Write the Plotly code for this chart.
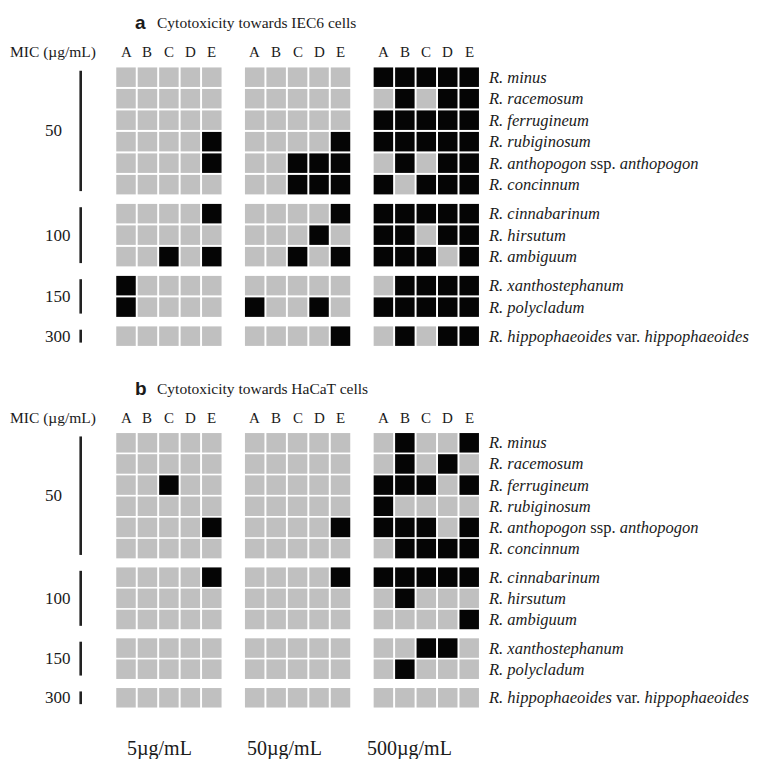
import plotly.graph_objects as go

# ---------------- data ----------------
species = [
    "<i>R. minus</i>",
    "<i>R. racemosum</i>",
    "<i>R. ferrugineum</i>",
    "<i>R. rubiginosum</i>",
    "<i>R. anthopogon</i> ssp. <i>anthopogon</i>",
    "<i>R. concinnum</i>",
    "<i>R. cinnabarinum</i>",
    "<i>R. hirsutum</i>",
    "<i>R. ambiguum</i>",
    "<i>R. xanthostephanum</i>",
    "<i>R. polycladum</i>",
    "<i>R. hippophaeoides</i> var. <i>hippophaeoides</i>",
]
mic_values = ["50", "100", "150", "300"]
mic_group_sizes = [6, 3, 2, 1]
extract_cols = ["A", "B", "C", "D", "E"]
conc_labels = ["5µg/mL", "50µg/mL", "500µg/mL"]
panel_titles = [("a", "Cytotoxicity towards IEC6 cells"),
                ("b", "Cytotoxicity towards HaCaT cells")]

# 1 = cytotoxic (black), 0 = not (grey); rows follow `species`, cols A-E
iec6_5 = [
    [0, 0, 0, 0, 0], [0, 0, 0, 0, 0], [0, 0, 0, 0, 0], [0, 0, 0, 0, 1],
    [0, 0, 0, 0, 1], [0, 0, 0, 0, 0], [0, 0, 0, 0, 1], [0, 0, 0, 0, 0],
    [0, 0, 1, 0, 1], [1, 0, 0, 0, 0], [1, 0, 0, 0, 0], [0, 0, 0, 0, 0],
]
iec6_50 = [
    [0, 0, 0, 0, 0], [0, 0, 0, 0, 0], [0, 0, 0, 0, 0], [0, 0, 0, 0, 1],
    [0, 0, 1, 1, 1], [0, 0, 1, 1, 1], [0, 0, 0, 0, 1], [0, 0, 0, 1, 0],
    [0, 0, 1, 0, 1], [0, 0, 0, 0, 0], [1, 0, 0, 1, 0], [0, 0, 0, 0, 1],
]
iec6_500 = [
    [1, 1, 1, 1, 1], [0, 1, 0, 1, 1], [1, 1, 1, 1, 1], [1, 1, 1, 1, 1],
    [0, 1, 0, 1, 1], [1, 0, 1, 1, 1], [1, 1, 1, 1, 1], [1, 1, 0, 1, 1],
    [1, 1, 1, 0, 1], [0, 1, 1, 1, 1], [1, 1, 1, 1, 1], [0, 1, 0, 1, 1],
]
hacat_5 = [
    [0, 0, 0, 0, 0], [0, 0, 0, 0, 0], [0, 0, 1, 0, 0], [0, 0, 0, 0, 0],
    [0, 0, 0, 0, 1], [0, 0, 0, 0, 0], [0, 0, 0, 0, 1], [0, 0, 0, 0, 0],
    [0, 0, 0, 0, 0], [0, 0, 0, 0, 0], [0, 0, 0, 0, 0], [0, 0, 0, 0, 0],
]
hacat_50 = [
    [0, 0, 0, 0, 0], [0, 0, 0, 0, 0], [0, 0, 0, 0, 0], [0, 0, 0, 0, 0],
    [0, 0, 0, 0, 1], [0, 0, 0, 0, 0], [0, 0, 0, 0, 1], [0, 0, 0, 0, 0],
    [0, 0, 0, 0, 0], [0, 0, 0, 0, 0], [0, 0, 0, 0, 0], [0, 0, 0, 0, 0],
]
hacat_500 = [
    [0, 1, 0, 0, 1], [0, 1, 0, 1, 0], [1, 1, 1, 0, 1], [1, 0, 0, 0, 0],
    [1, 1, 1, 0, 1], [0, 1, 1, 1, 1], [1, 1, 1, 1, 1], [0, 1, 0, 0, 0],
    [0, 0, 0, 0, 1], [0, 0, 1, 1, 0], [0, 1, 0, 0, 0], [0, 0, 0, 0, 0],
]
panels = [[iec6_5, iec6_50, iec6_500], [hacat_5, hacat_50, hacat_500]]

# ---------------- layout constants ----------------
OFF = 8                               # page body margin of the browser
W, H = 763 - OFF, 759 - OFF
X0_PX, COL_PX = 126.0, 21.45          # screen centre of first cell, column pitch
PANEL_Y0_PX = [77.2, 442.8]           # screen centre of first row per panel
PANEL_ROW_PX = [21.49, 21.16]         # row pitch per panel
GROUP_STEP = 6                        # columns per concentration block (5 + gap)
ROW_GAP = 0.35                        # extra gap between MIC groups (row units)
CELL = 19.5
GREY, BLACK, INK = "#c0c0c0", "#050505", "#1a1a1a"
SERIF = "Liberation Serif, Times New Roman, serif"
SANS = "Liberation Sans, Arial, sans-serif"


def px_to_u(px):
    return (px - X0_PX) / COL_PX


# row positions in row units, with gaps between MIC groups
row_pos = []
for gi, n in enumerate(mic_group_sizes):
    start = len(row_pos)
    for k in range(n):
        row_pos.append(start + k + gi * ROW_GAP)

fig = go.Figure()
annotations = []
yaxes = ["y", "y2"]

for p, blocks in enumerate(panels):
    ya = yaxes[p]
    yref = ya
    y0, rp = PANEL_Y0_PX[p], PANEL_ROW_PX[p]
    # cells
    for g, mat in enumerate(blocks):
        xs, ys, cs = [], [], []
        for r, row in enumerate(mat):
            for c, val in enumerate(row):
                xs.append(g * GROUP_STEP + c)
                ys.append(row_pos[r])
                cs.append(BLACK if val else GREY)
        fig.add_trace(go.Scatter(
            x=xs, y=ys, mode="markers", yaxis=ya, hoverinfo="skip",
            marker=dict(symbol="square", size=CELL, color=cs, line=dict(width=0)),
        ))
    # column headers
    hdr_v = -1.17
    for g in range(len(blocks)):
        for c, lab in enumerate(extract_cols):
            annotations.append(dict(
                x=g * GROUP_STEP + c, y=hdr_v, xref="x", yref=yref, text=lab,
                showarrow=False, font=dict(family=SERIF, size=15, color=INK),
                xanchor="center", yanchor="middle"))
    # MIC label
    annotations.append(dict(
        x=px_to_u(8), y=hdr_v, xref="x", yref=yref, text="MIC (µg/mL)",
        showarrow=False, font=dict(family=SERIF, size=15.5, color=INK),
        xanchor="left", yanchor="middle"))
    # panel title
    letter, title = panel_titles[p]
    title_v = -54.5 / rp
    annotations.append(dict(
        x=px_to_u(133), y=title_v, xref="x", yref=yref, text="<b>%s</b>" % letter,
        showarrow=False, font=dict(family=SANS, size=19, color=INK),
        xanchor="left", yanchor="middle"))
    annotations.append(dict(
        x=px_to_u(155), y=title_v, xref="x", yref=yref, text=title,
        showarrow=False, font=dict(family=SERIF, size=15.5, color=INK),
        xanchor="left", yanchor="middle"))
    # species labels
    for r, name in enumerate(species):
        annotations.append(dict(
            x=px_to_u(486), y=row_pos[r], xref="x", yref=yref, text=name,
            showarrow=False, font=dict(family=SERIF, size=16.5, color=INK),
            xanchor="left", yanchor="middle"))
    # MIC group bars + values
    bx, by = [], []
    start = 0
    for gi, n in enumerate(mic_group_sizes):
        top = row_pos[start] - 0.3
        bot = row_pos[start + n - 1] + 0.3
        bx += [px_to_u(80.7), px_to_u(80.7), None]
        by += [top, bot, None]
        annotations.append(dict(
            x=px_to_u(43), y=(row_pos[start] + row_pos[start + n - 1]) / 2,
            xref="x", yref=yref, text=mic_values[gi], showarrow=False,
            font=dict(family=SERIF, size=17, color=INK),
            xanchor="left", yanchor="middle"))
        start += n
    fig.add_trace(go.Scatter(
        x=bx, y=by, mode="lines", yaxis=ya, hoverinfo="skip",
        line=dict(color="#222222", width=2.6),
    ))

# concentration labels at the bottom (screen pixel positions)
conc_left_px = [125, 245, 365]
conc_mid_y_px = 748
for lab, lx in zip(conc_labels, conc_left_px):
    annotations.append(dict(
        x=(lx - OFF) / W, y=1 - (conc_mid_y_px - OFF) / H,
        xref="paper", yref="paper", text=lab,
        showarrow=False, font=dict(family=SERIF, size=20, color=INK),
        xanchor="left", yanchor="middle"))


def yrange(p):
    y0, rp = PANEL_Y0_PX[p], PANEL_ROW_PX[p]
    return [(OFF + H - y0) / rp, (OFF - y0) / rp]


fig.update_layout(
    width=W, height=H,
    margin=dict(l=0, r=0, t=0, b=0),
    paper_bgcolor="white", plot_bgcolor="white",
    showlegend=False,
    xaxis=dict(range=[px_to_u(OFF), px_to_u(OFF + W)], visible=False,
               fixedrange=True),
    yaxis=dict(range=yrange(0), visible=False, fixedrange=True),
    yaxis2=dict(range=yrange(1), visible=False, fixedrange=True,
                overlaying="y"),
    annotations=annotations,
)

fig.write_html("out.html")
